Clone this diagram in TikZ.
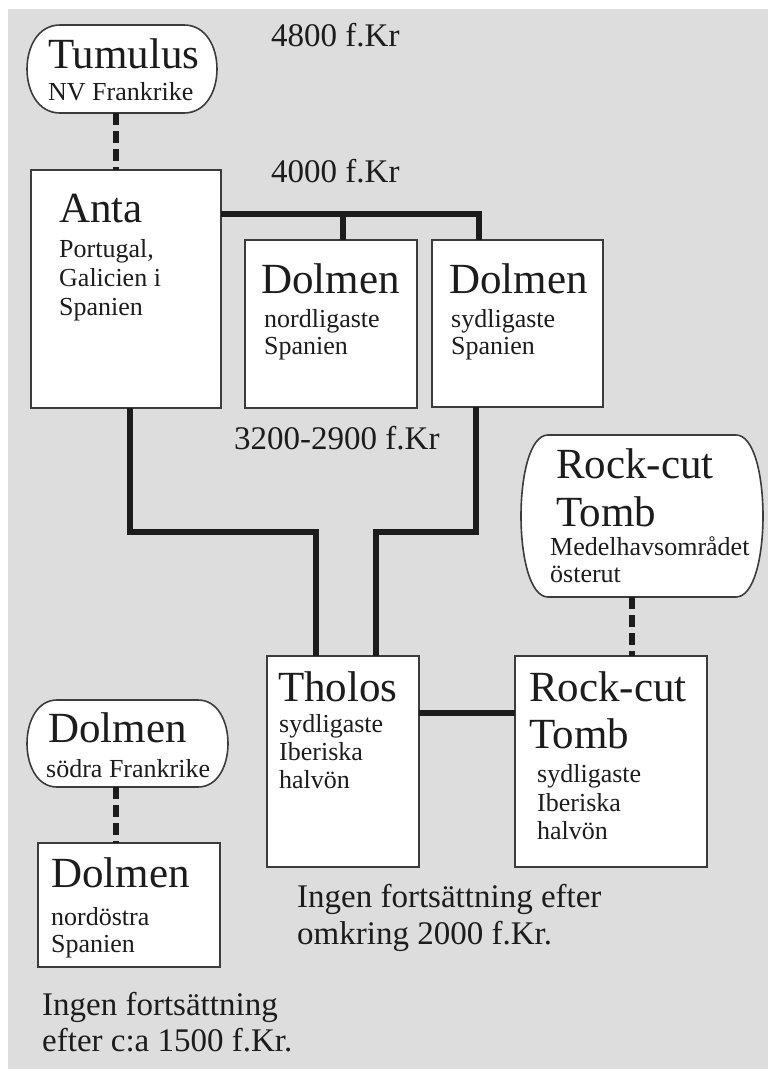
\documentclass[tikz,border=0pt]{standalone}
\usepackage{fontspec}
\setmainfont{Liberation Serif}
\definecolor{bg}{RGB}{221,221,221}
\definecolor{ink}{RGB}{28,28,28}
\definecolor{edge}{RGB}{60,60,60}
\newcommand\rbx[3]{%
  \draw[edge line] ([xshift=#2]#1.north west) -- ([xshift=-#2]#1.north east)
    .. controls ([xshift=#3]#1.north east) and ([xshift=#3]#1.south east) .. ([xshift=-#2]#1.south east)
    -- ([xshift=#2]#1.south west)
    .. controls ([xshift=-#3]#1.south west) and ([xshift=-#3]#1.north west) .. cycle;}
\begin{document}
\begin{tikzpicture}[x=1pt,y=-1pt,
  box/.style={draw=edge, line width=1.6pt, fill=white, inner sep=0pt, outer sep=0pt},
  ghost/.style={inner sep=0pt, outer sep=0pt},
  edge line/.style={draw=edge, line width=1.6pt, fill=white},
  conn/.style={draw=ink, line width=6pt},
  dconn/.style={draw=ink, line width=6pt, dash pattern=on 12pt off 6pt},
  ttl/.style={font=\fontsize{43}{45}\selectfont, text=ink, anchor=base west, inner sep=0pt},
  sub/.style={font=\fontsize{26}{28}\selectfont, text=ink, anchor=base west, inner sep=0pt},
  lbl/.style={font=\fontsize{33}{36}\selectfont, text=ink, anchor=base west, inner sep=0pt}]
\useasboundingbox (0,0) rectangle (768,1069);
\fill[white] (0,0) rectangle (768,1069);
\fill[bg] (8,9) rectangle (768,1069);

% rounded (curved-side) boxes
\node[ghost, minimum width=190pt, minimum height=88pt] (tumulus) at (122,69) {};
\node[ghost, minimum width=242pt, minimum height=162pt] (rockround) at (642,516) {};
\node[ghost, minimum width=201pt, minimum height=87pt] (dolmenFr) at (127.5,743.5) {};
\rbx{tumulus}{33pt}{11pt}
\rbx{rockround}{27pt}{9pt}
\rbx{dolmenFr}{30pt}{10pt}

% rectangular boxes
\node[box, minimum width=190pt, minimum height=238pt] (anta) at (126,289) {};
\node[box, minimum width=172pt, minimum height=168pt] (dolmenN) at (331,324) {};
\node[box, minimum width=171pt, minimum height=167pt] (dolmenS) at (517.5,323.5) {};
\node[box, minimum width=152pt, minimum height=211pt] (tholos) at (343,761.5) {};
\node[box, minimum width=192pt, minimum height=211pt] (rockbox) at (611,761.5) {};
\node[box, minimum width=182pt, minimum height=124pt] (dolmenNE) at (129,905) {};

% connectors
\draw[dconn] (116,0 |- tumulus.south) -- (116,0 |- anta.north);
\draw[conn] (anta.east |- 0,214) -- (479,214) -- (479,0 |- dolmenS.north);
\draw[conn] (343,214) -- (343,0 |- dolmenN.north);
\draw[conn] (130,0 |- anta.south) -- (130,532) -- (316,532) -- (316,0 |- tholos.north);
\draw[conn] (476,0 |- dolmenS.south) -- (476,532) -- (376,532) -- (376,0 |- tholos.north);
\draw[conn] (tholos.east |- 0,713) -- (rockbox.west |- 0,713);
\draw[dconn] (632,0 |- rockround.south) -- (632,0 |- rockbox.north);
\draw[dconn] (116,0 |- dolmenFr.south) -- (116,0 |- dolmenNE.north);

% texts
\node[ttl] (t1) at (48,68) {Tumulus};
\node[sub] (t2) at (48,100) {NV Frankrike};
\node[lbl] (l1) at (271,46) {4800 f.Kr};
\node[lbl] (l2) at (271,182) {4000 f.Kr};
\node[ttl] (t3) at (59,222) {Anta};
\node[sub] (t4) at (59,257) {Portugal,};
\node[sub] (t5) at (59,286) {Galicien i};
\node[sub] (t6) at (59,315) {Spanien};
\node[ttl] (t7) at (261,293) {Dolmen};
\node[sub] (t8) at (264,327) {nordligaste};
\node[sub] (t9) at (264,354) {Spanien};
\node[ttl] (t10) at (449,293) {Dolmen};
\node[sub] (t11) at (451,327) {sydligaste};
\node[sub] (t12) at (451,354) {Spanien};
\node[lbl] (l3) at (234,449) {3200-2900 f.Kr};
\node[ttl] (t13) at (556,478) {Rock-cut};
\node[ttl] (t14) at (556,526) {Tomb};
\node[sub] (t15) at (550,555) {Medelhavsområdet};
\node[sub] (t16) at (550,582) {österut};
\node[ttl] (t17) at (278,701) {Tholos};
\node[sub] (t18) at (279,732) {sydligaste};
\node[sub] (t19) at (279,760) {Iberiska};
\node[sub] (t20) at (279,788) {halvön};
\node[ttl] (t21) at (529,701) {Rock-cut};
\node[ttl] (t22) at (529,748) {Tomb};
\node[sub] (t23) at (537,782) {sydligaste};
\node[sub] (t24) at (537,811) {Iberiska};
\node[sub] (t25) at (537,839) {halvön};
\node[ttl] (t26) at (48,742) {Dolmen};
\node[sub] (t27) at (46,777) {södra Frankrike};
\node[ttl] (t28) at (51,887) {Dolmen};
\node[sub] (t29) at (51,925) {nordöstra};
\node[sub] (t30) at (51,952) {Spanien};
\node[lbl] (l4) at (297,907) {Ingen fortsättning efter};
\node[lbl] (l5) at (297,944) {omkring 2000 f.Kr.};
\node[lbl] (l6) at (42,1015) {Ingen fortsättning};
\node[lbl] (l7) at (42,1051) {efter c:a 1500 f.Kr.};
\end{tikzpicture}
\end{document}
